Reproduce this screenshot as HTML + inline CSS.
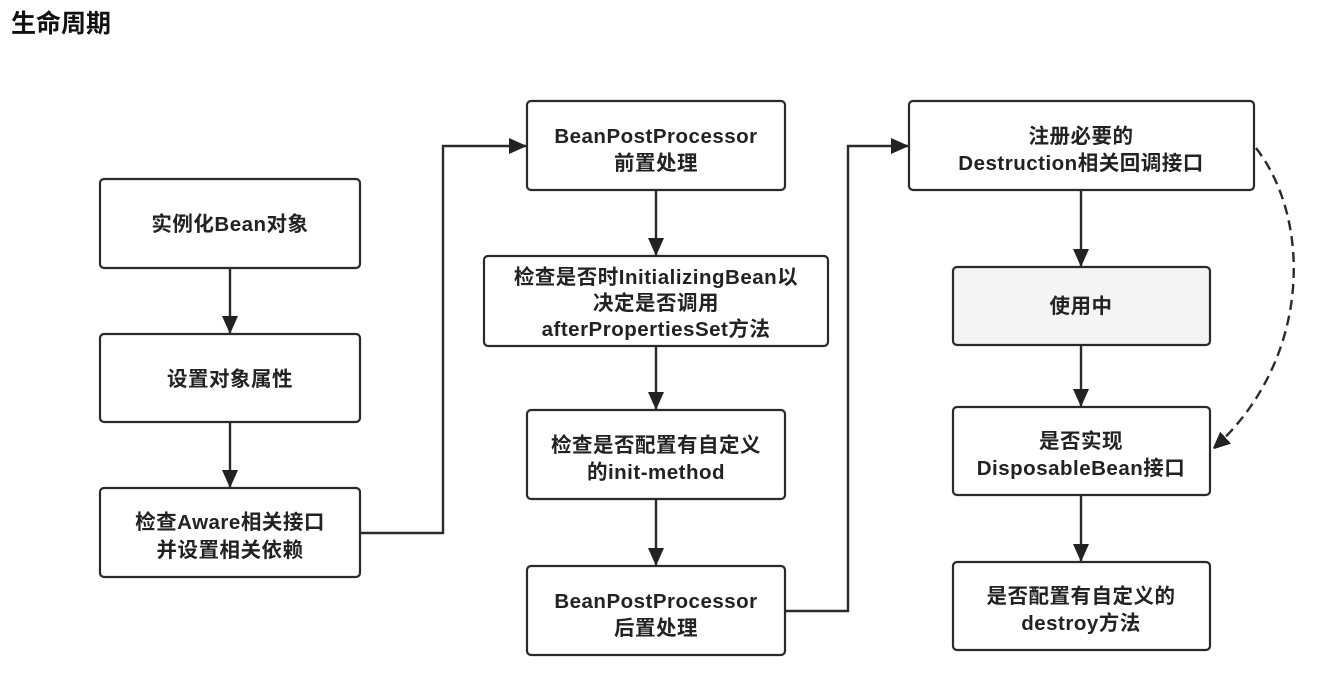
<!DOCTYPE html>
<html><head><meta charset="utf-8"><style>
html,body{margin:0;padding:0;background:#fff;width:1318px;height:683px;overflow:hidden}
svg text{font-family:"Liberation Sans","Noto Sans CJK SC",sans-serif;font-weight:bold;fill:#222}
</style></head><body>
<svg width="1318" height="683" viewBox="0 0 1318 683" xmlns="http://www.w3.org/2000/svg">
<defs><marker id="a" markerWidth="16" markerHeight="18" refX="17" refY="8" orient="auto" markerUnits="userSpaceOnUse"><path d="M0,0 L18,8 L0,16 z" fill="#222"/></marker></defs>
<text x="11" y="32" font-size="25" style="fill:#111">生命周期</text>
<g fill="#fff" stroke="#2a2a2a" stroke-width="2.2">
<rect x="100" y="179" width="260" height="89" rx="4"/>
<rect x="100" y="334" width="260" height="88" rx="4"/>
<rect x="100" y="488" width="260" height="89" rx="4"/>
<rect x="527" y="101" width="258" height="89" rx="4"/>
<rect x="484" y="256" width="344" height="90" rx="4"/>
<rect x="527" y="410" width="258" height="89" rx="4"/>
<rect x="527" y="566" width="258" height="89" rx="4"/>
<rect x="909" y="101" width="345" height="89" rx="4"/>
<rect x="953" y="267" width="257" height="78" rx="4" fill="#f4f4f4"/>
<rect x="953" y="407" width="257" height="88" rx="4"/>
<rect x="953" y="562" width="257" height="88" rx="4"/>
</g>
<g stroke="#2a2a2a" stroke-width="2.4" fill="none" marker-end="url(#a)">
<line x1="230" y1="268" x2="230" y2="333"/>
<line x1="230" y1="422" x2="230" y2="487"/>
<polyline points="360,533 443,533 443,146 526,146"/>
<line x1="656" y1="190" x2="656" y2="255"/>
<line x1="656" y1="346" x2="656" y2="409"/>
<line x1="656" y1="499" x2="656" y2="565"/>
<polyline points="785,611 848,611 848,146 908,146"/>
<line x1="1081" y1="190" x2="1081" y2="266"/>
<line x1="1081" y1="345" x2="1081" y2="406"/>
<line x1="1081" y1="495" x2="1081" y2="561"/>
<path d="M1256,148 C1312,220 1312,360 1213,449" stroke-dasharray="10,6"/>
</g>
<g font-size="20.5" text-anchor="middle" letter-spacing="0.5">
<text x="230" y="231">实例化Bean对象</text>
<text x="230" y="386">设置对象属性</text>
<text x="230" y="529">检查Aware相关接口</text>
<text x="230" y="557">并设置相关依赖</text>
<text x="656" y="143">BeanPostProcessor</text>
<text x="656" y="170">前置处理</text>
<text x="656" y="284">检查是否时InitializingBean以</text>
<text x="656" y="310">决定是否调用</text>
<text x="656" y="336">afterPropertiesSet方法</text>
<text x="656" y="452">检查是否配置有自定义</text>
<text x="656" y="479">的init-method</text>
<text x="656" y="608">BeanPostProcessor</text>
<text x="656" y="635">后置处理</text>
<text x="1081" y="143">注册必要的</text>
<text x="1081" y="170">Destruction相关回调接口</text>
<text x="1081" y="313">使用中</text>
<text x="1081" y="448">是否实现</text>
<text x="1081" y="475">DisposableBean接口</text>
<text x="1081" y="603">是否配置有自定义的</text>
<text x="1081" y="630">destroy方法</text>
</g>
</svg>
</body></html>
